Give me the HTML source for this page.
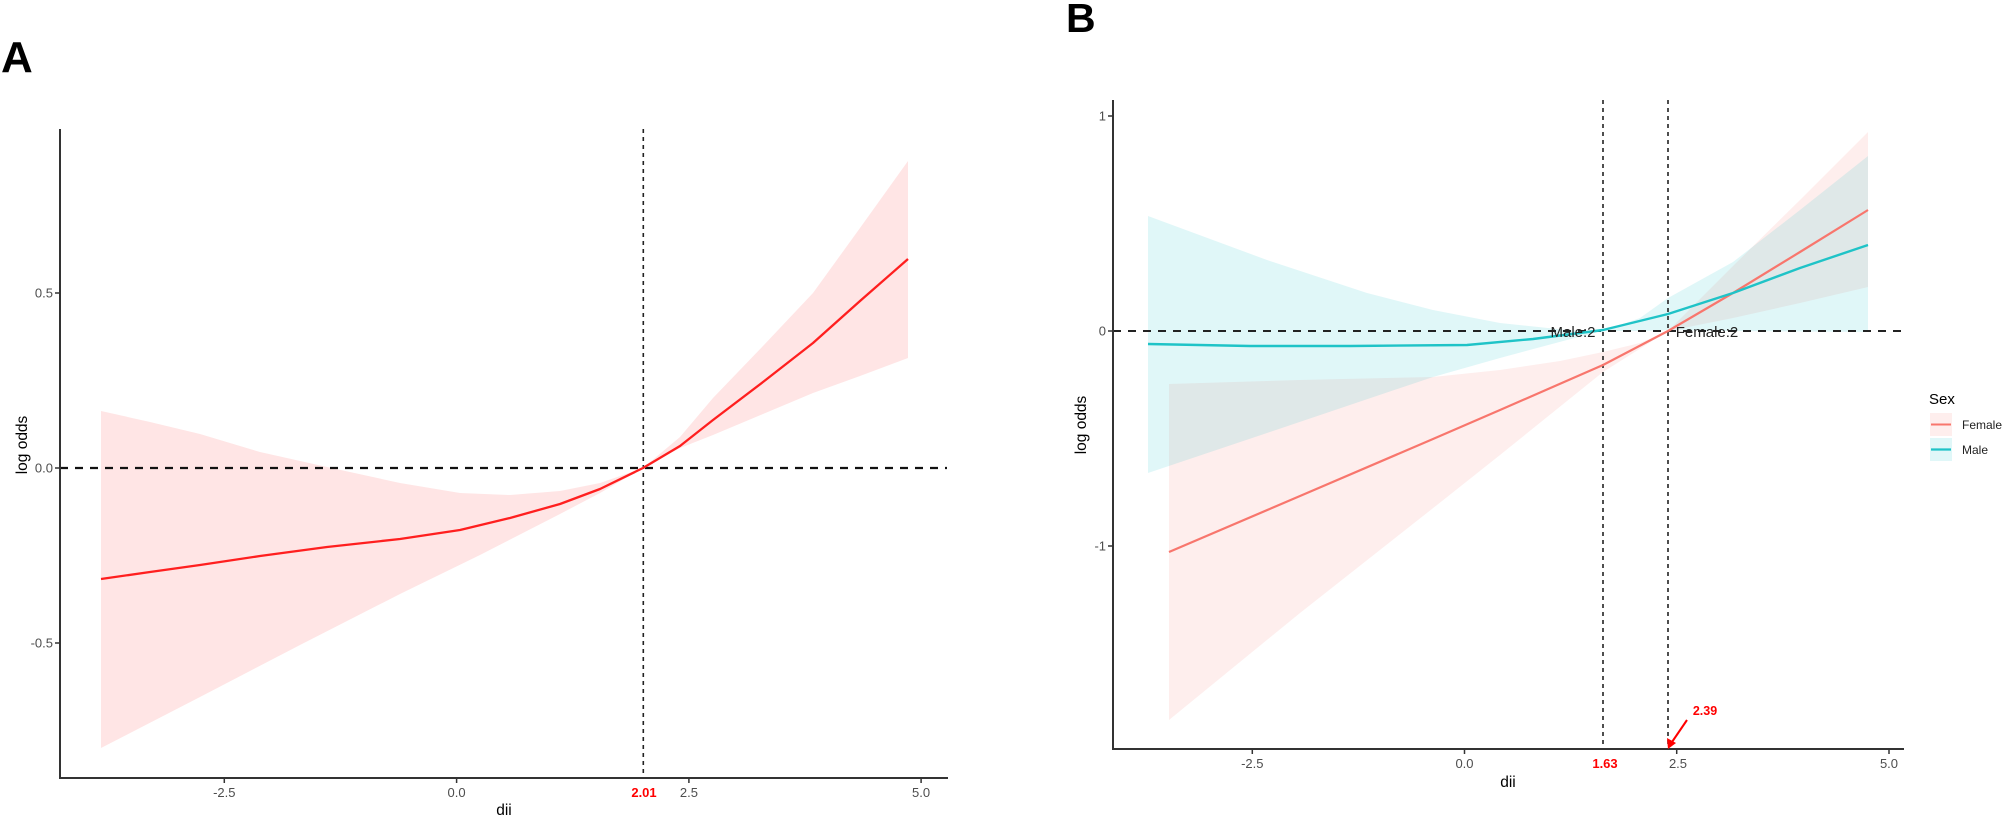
<!DOCTYPE html>
<html>
<head>
<meta charset="utf-8">
<style>
  html, body { margin: 0; padding: 0; background: #ffffff; }
  body { width: 2008px; height: 819px; overflow: hidden; }
  svg { display: block; font-family: "Liberation Sans", Arial, sans-serif; }
  .tick { font-size: 13px; fill: #4d4d4d; }
  .ttl { font-size: 15.5px; fill: #000; }
</style>
</head>
<body>
<svg width="2008" height="819" viewBox="0 0 2008 819" xmlns="http://www.w3.org/2000/svg">
  <rect x="0" y="0" width="2008" height="819" fill="#ffffff"/>

  <!-- ================= PANEL A ================= -->
  <text x="1" y="72" font-size="44" font-weight="bold" fill="#000">A</text>

  <!-- ribbon -->
  <polygon fill="#ffe5e5" points="101,411 150,422 200,434 260,452 327,467 400,483 460,493 510,495 560,491 600,483 643,468 680,437 713,398 763,346 813,293 860,228 908,161 908,358 860,376 813,393 763,414 713,435 680,448 643,468 600,493 560,514 480,555 400,594 300,645 200,697 101,748"/>

  <!-- reference lines -->
  <line x1="60" y1="468" x2="947" y2="468" stroke="#111" stroke-width="2.2" stroke-dasharray="8,7"/>
  <line x1="643.3" y1="129" x2="643.3" y2="778" stroke="#222" stroke-width="1.6" stroke-dasharray="4,4"/>

  <!-- fitted line -->
  <polyline fill="none" stroke="#ff1f1f" stroke-width="2.3" stroke-linejoin="round" points="101,579 150,572 200,565 260,556 327,547 400,539 460,530 510,518 560,504 600,489 643,468 680,446 713,420 763,382 813,343 860,301 908,259"/>

  <!-- axes -->
  <line x1="60" y1="129" x2="60" y2="779" stroke="#333" stroke-width="2"/>
  <line x1="59" y1="778" x2="948" y2="778" stroke="#333" stroke-width="2"/>

  <!-- y ticks -->
  <g stroke="#333" stroke-width="1.5">
    <line x1="55" y1="293" x2="60" y2="293"/>
    <line x1="55" y1="468" x2="60" y2="468"/>
    <line x1="55" y1="643" x2="60" y2="643"/>
  </g>
  <g class="tick" text-anchor="end">
    <text x="53" y="297.5">0.5</text>
    <text x="53" y="472.5">0.0</text>
    <text x="53" y="647.5">-0.5</text>
  </g>

  <!-- x ticks -->
  <g stroke="#333" stroke-width="1.5">
    <line x1="224.3" y1="778" x2="224.3" y2="783"/>
    <line x1="456.6" y1="778" x2="456.6" y2="783"/>
    <line x1="688.9" y1="778" x2="688.9" y2="783"/>
    <line x1="921.1" y1="778" x2="921.1" y2="783"/>
  </g>
  <g class="tick" text-anchor="middle">
    <text x="224.3" y="797">-2.5</text>
    <text x="456.6" y="797">0.0</text>
    <text x="688.9" y="797">2.5</text>
    <text x="921.1" y="797">5.0</text>
  </g>
  <text x="644" y="797" text-anchor="middle" font-size="13" font-weight="bold" fill="#ff0000">2.01</text>

  <!-- axis titles -->
  <text class="ttl" x="504" y="815" text-anchor="middle">dii</text>
  <text class="ttl" x="0" y="0" text-anchor="middle" transform="translate(27,445) rotate(-90)">log odds</text>

  <!-- ================= PANEL B ================= -->
  <text x="1066" y="32" font-size="41" font-weight="bold" fill="#000">B</text>

  <!-- ribbons -->
  <polygon fill="#F8766D" fill-opacity="0.12" points="1169,384 1300,380 1433,377 1500,370 1560,361 1603,352 1640,343 1668,331 1733,266 1800,200 1868,132 1868,287 1800,303 1733,318 1668,331 1603,372 1500,455 1437,505 1300,613 1169,720"/>
  <polygon fill="#00BFC4" fill-opacity="0.12" points="1148,216 1267,260 1367,293 1433,310 1500,323 1567,330 1603,331 1640,318 1668,298 1733,262 1800,210 1868,156 1868,332 1733,331 1668,330 1640,331 1603,331 1567,340 1500,358 1433,377 1267,433 1148,473"/>

  <!-- reference lines -->
  <line x1="1113" y1="331" x2="1904" y2="331" stroke="#222" stroke-width="2" stroke-dasharray="8,7"/>
  <line x1="1603" y1="100" x2="1603" y2="749" stroke="#222" stroke-width="1.6" stroke-dasharray="4,4"/>
  <line x1="1668" y1="100" x2="1668" y2="749" stroke="#222" stroke-width="1.6" stroke-dasharray="4,4"/>

  <!-- fitted lines -->
  <polyline fill="none" stroke="#F8766D" stroke-width="2.2" stroke-linejoin="round" points="1169,552 1300,496 1433,439 1500,410 1603,365 1668,331 1733,293 1800,252 1868,210"/>
  <polyline fill="none" stroke="#1fc3c7" stroke-width="2.4" stroke-linejoin="round" points="1148,344 1250,346 1350,346 1467,345 1533,339 1603,330 1668,314 1733,293 1800,268 1868,245"/>

  <!-- labels on lines -->
  <text x="1573" y="337" text-anchor="middle" font-size="15" fill="#222">Male:2</text>
  <text x="1707" y="337" text-anchor="middle" font-size="15" fill="#222">Female:2</text>

  <!-- axes -->
  <line x1="1113" y1="100" x2="1113" y2="750" stroke="#333" stroke-width="2"/>
  <line x1="1112" y1="749" x2="1904" y2="749" stroke="#333" stroke-width="2"/>

  <!-- y ticks -->
  <g stroke="#333" stroke-width="1.5">
    <line x1="1108" y1="116" x2="1113" y2="116"/>
    <line x1="1108" y1="331" x2="1113" y2="331"/>
    <line x1="1108" y1="546" x2="1113" y2="546"/>
  </g>
  <g class="tick" text-anchor="end">
    <text x="1106" y="120.5">1</text>
    <text x="1106" y="335.5">0</text>
    <text x="1106" y="550.5">-1</text>
  </g>

  <!-- x ticks -->
  <g stroke="#333" stroke-width="1.5">
    <line x1="1252.3" y1="749" x2="1252.3" y2="754"/>
    <line x1="1464.5" y1="749" x2="1464.5" y2="754"/>
    <line x1="1676.7" y1="749" x2="1676.7" y2="754"/>
    <line x1="1889" y1="749" x2="1889" y2="754"/>
  </g>
  <g class="tick" text-anchor="middle">
    <text x="1252.3" y="768">-2.5</text>
    <text x="1464.5" y="768">0.0</text>
    <text x="1678" y="768">2.5</text>
    <text x="1889" y="768">5.0</text>
  </g>
  <text x="1605" y="768" text-anchor="middle" font-size="13" font-weight="bold" fill="#ff0000">1.63</text>
  <text x="1705" y="715" text-anchor="middle" font-size="12.5" font-weight="bold" fill="#ff0000">2.39</text>
  <!-- arrow -->
  <line x1="1687" y1="720" x2="1672" y2="742" stroke="#ff0000" stroke-width="2"/>
  <polygon fill="#ff0000" points="1668,749 1667,738 1676,743"/>

  <!-- axis titles -->
  <text class="ttl" x="1508" y="787" text-anchor="middle">dii</text>
  <text class="ttl" x="0" y="0" text-anchor="middle" transform="translate(1086,425) rotate(-90)">log odds</text>

  <!-- legend -->
  <text x="1929" y="404" font-size="15" fill="#000">Sex</text>
  <rect x="1930" y="413" width="22" height="23" fill="#F8766D" fill-opacity="0.12"/>
  <line x1="1931" y1="424.5" x2="1951" y2="424.5" stroke="#F8766D" stroke-width="2"/>
  <rect x="1930" y="438" width="22" height="23" fill="#00BFC4" fill-opacity="0.12"/>
  <line x1="1931" y1="449.5" x2="1951" y2="449.5" stroke="#1fc3c7" stroke-width="2.2"/>
  <text x="1962" y="429" font-size="12" fill="#222">Female</text>
  <text x="1962" y="454" font-size="12" fill="#222">Male</text>
</svg>
</body>
</html>
